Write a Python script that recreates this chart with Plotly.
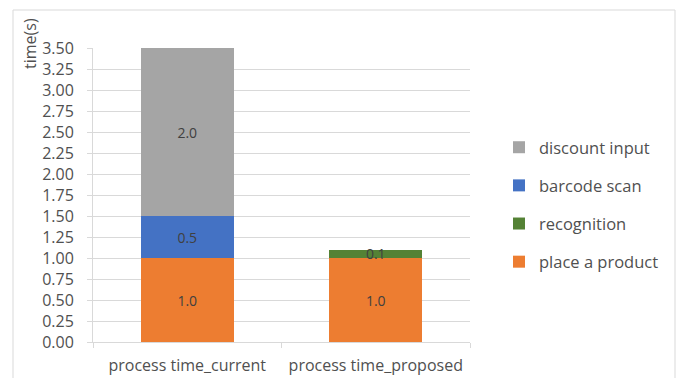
import plotly.graph_objects as go

categories = ["process time_current", "process time_proposed"]
place_a_product = [1.0, 1.0]
recognition = [None, 0.1]
barcode_scan = [0.5, None]
discount_input = [2.0, None]

series = [
    ("place a product", place_a_product, "#ED7D31", 4),
    ("recognition", recognition, "#548235", 3),
    ("barcode scan", barcode_scan, "#4472C4", 2),
    ("discount input", discount_input, "#A5A5A5", 1),
]

FONT = "Open Sans"
TXT = "#505050"

fig = go.Figure()
for name, vals, color, rank in series:
    fig.add_trace(go.Bar(
        x=categories, y=vals, name=name, legendgroup=name, legendrank=rank,
        marker=dict(color=color, line=dict(width=0)),
        text=[("%.1f" % v) if v is not None else "" for v in vals],
        textposition="inside", insidetextanchor="middle",
        constraintext="none",
        textfont=dict(family=FONT, size=14, color="#404040"),
        hoverinfo="skip",
    ))

W, H = 683, 378
L, R, T, B = 93, 213, 48, 36
pw, ph = W - L - R, H - T - B

def px_x(p):
    return (p - L) / pw

def px_y(p):
    return (H - B - p) / ph

fig.update_layout(
    width=W, height=H,
    margin=dict(l=L, r=R, t=T, b=B, autoexpand=False),
    barmode="stack", bargap=0.507,
    paper_bgcolor="white", plot_bgcolor="white",
    font=dict(family=FONT, size=16, color=TXT),
    showlegend=True,
    legend=dict(
        x=px_x(499), y=px_y(130), xanchor="left", yanchor="top",
        traceorder="grouped", tracegroupgap=13.7,
        font=dict(family=FONT, size=16.5, color=TXT),
        itemwidth=30, bgcolor="rgba(0,0,0,0)",
    ),
    xaxis=dict(
        type="category", showline=True, linecolor="#d9d9d9", linewidth=1,
        ticks="outside", tickson="boundaries", ticklen=5, tickcolor="#d9d9d9",
        ticklabelstandoff=9, automargin=False,
        tickfont=dict(family=FONT, size=16, color=TXT), showgrid=False,
    ),
    yaxis=dict(
        range=[0, 3.5], dtick=0.25, tick0=0, tickformat=".2f",
        showgrid=True, gridcolor="#d9d9d9", gridwidth=1,
        showline=True, linecolor="#d9d9d9", linewidth=1,
        ticks="outside", ticklen=5, tickcolor="#d9d9d9",
        ticklabelstandoff=10, automargin=False,
        tickfont=dict(family=FONT, size=16, color=TXT), zeroline=False,
    ),
    shapes=[dict(
        type="rect", xref="paper", yref="paper",
        x0=px_x(13), x1=px_x(675), y0=px_y(392), y1=px_y(10),
        line=dict(color="#d9d9d9", width=1), fillcolor="rgba(0,0,0,0)", layer="below",
    )],
    annotations=[dict(
        text="time(s)", textangle=-90, xref="paper", yref="paper",
        x=px_x(30), y=px_y(44), xanchor="center", yanchor="middle",
        showarrow=False, font=dict(family=FONT, size=16, color=TXT),
    )],
)

fig.write_html("out.html")
